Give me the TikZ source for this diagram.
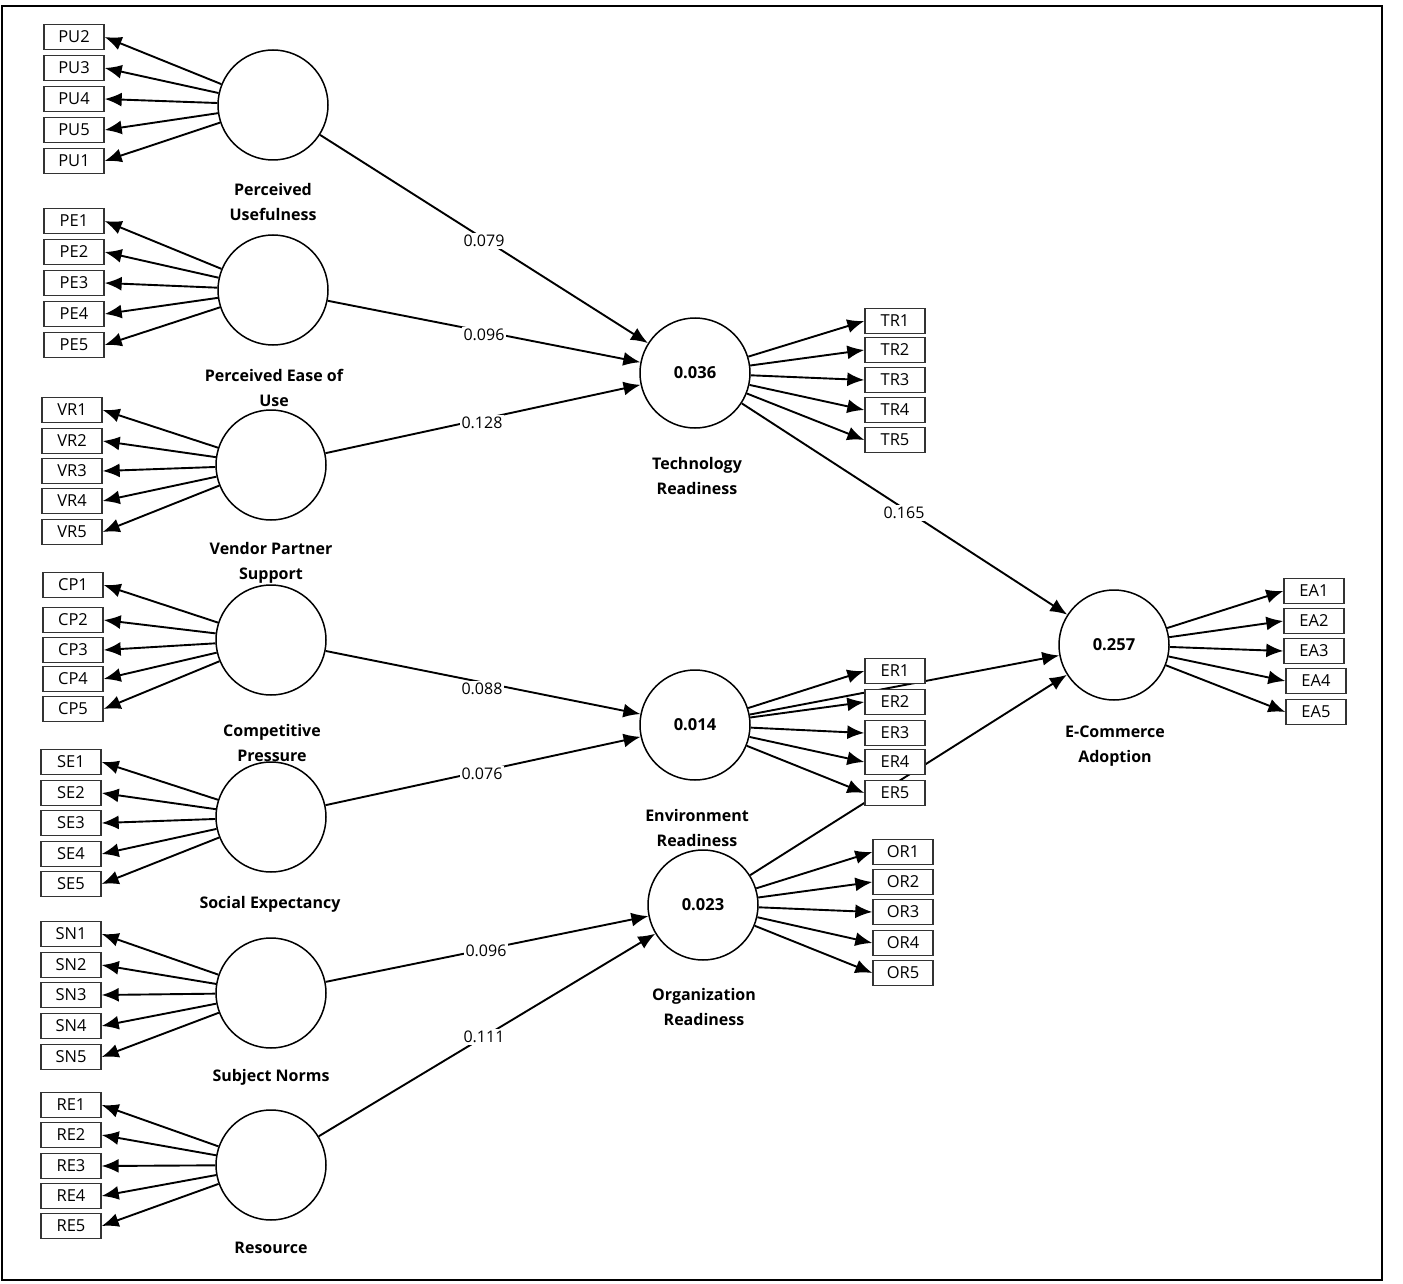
\documentclass[tikz,border=0pt]{standalone}
\usepackage{fontspec}
\setmainfont{Open Sans}
\usetikzlibrary{arrows.meta,backgrounds}
\begin{document}
\begin{tikzpicture}[x=1pt,y=-1pt,
 lv/.style={circle,draw,line width=1.5pt,minimum size=110pt,inner sep=0pt,font=\bfseries\fontsize{16.5}{20}\selectfont},
 ind/.style={draw=black!80,line width=1.4pt,fill=white,minimum width=60pt,minimum height=25pt,inner sep=0pt,font=\fontsize{16.5}{19}\selectfont},
 lab/.style={font=\bfseries\fontsize{16}{24.5}\selectfont,align=center},
 arr/.style={line width=1.9pt,-{Latex[length=17pt,width=14pt]}},
 coef/.style={fill=white,inner sep=2pt,font=\fontsize{16}{18}\selectfont}]
\useasboundingbox (0,0) rectangle (1403,1284);
\draw[line width=2.5pt] (2,6) rectangle (1382,1280);

% latent variables
\node[lv] (pu) at (273,105) {};
\node[lv] (pe) at (273,290) {};
\node[lv] (vr) at (271,465) {};
\node[lv] (cp) at (271,640) {};
\node[lv] (se) at (271,817) {};
\node[lv] (sn) at (271,993) {};
\node[lv] (re) at (271,1165) {};
\node[lv] (tr) at (695,373) {0.036};
\node[lv] (er) at (695,725) {0.014};
\node[lv] (or) at (703,905) {0.023};
\node[lv] (ea) at (1114,645) {0.257};

% construct labels
\node[lab] (lpu) at (273,202) {Perceived\\Usefulness};
\node[lab] (lpe) at (274,388) {Perceived Ease of\\Use};
\node[lab] (lvr) at (271,563) {Vendor Partner\\Support};
\node[lab] (lcp) at (272,743) {Competitive\\Pressure};
\node[lab] (lse) at (270,904) {Social Expectancy};
\node[lab] (lsn) at (271,1077) {Subject Norms};
\node[lab] (lre) at (271,1248) {Resource};
\node[lab] (ltr) at (697,476) {Technology\\Readiness};
\node[lab] (ler) at (697,828) {Environment\\Readiness};
\node[lab] (lor) at (704,1007) {Organization\\Readiness};
\node[lab] (lea) at (1115,746) {E-Commerce\\Adoption};

% structural paths hidden behind ER boxes
\draw[arr] (er) -- (ea);
\draw[arr] (or) -- (ea);

% indicators
\foreach \n/\t/\y in {pu2/PU2/37,pu3/PU3/68,pu4/PU4/99,pu5/PU5/130,pu1/PU1/161}
  {\node[ind] (\n) at (74,\y) {\t}; \draw[arr] (pu) -- (\n.east);}
\foreach \n/\t/\y in {pe1/PE1/221,pe2/PE2/252,pe3/PE3/283,pe4/PE4/314,pe5/PE5/345}
  {\node[ind] (\n) at (74,\y) {\t}; \draw[arr] (pe) -- (\n.east);}
\foreach \n/\t/\y in {vr1/VR1/410,vr2/VR2/441,vr3/VR3/471,vr4/VR4/501,vr5/VR5/532}
  {\node[ind] (\n) at (72,\y) {\t}; \draw[arr] (vr) -- (\n.east);}
\foreach \n/\t/\y in {cp1/CP1/585,cp2/CP2/620,cp3/CP3/650,cp4/CP4/679,cp5/CP5/709}
  {\node[ind] (\n) at (73,\y) {\t}; \draw[arr] (cp) -- (\n.east);}
\foreach \n/\t/\y in {se1/SE1/762,se2/SE2/793,se3/SE3/823,se4/SE4/854,se5/SE5/884}
  {\node[ind] (\n) at (71,\y) {\t}; \draw[arr] (se) -- (\n.east);}
\foreach \n/\t/\y in {sn1/SN1/934,sn2/SN2/965,sn3/SN3/995,sn4/SN4/1026,sn5/SN5/1057}
  {\node[ind] (\n) at (71,\y) {\t}; \draw[arr] (sn) -- (\n.east);}
\foreach \n/\t/\y in {re1/RE1/1105,re2/RE2/1135,re3/RE3/1166,re4/RE4/1196,re5/RE5/1226}
  {\node[ind] (\n) at (71,\y) {\t}; \draw[arr] (re) -- (\n.east);}
\foreach \n/\t/\y in {tr1/TR1/321,tr2/TR2/350,tr3/TR3/380,tr4/TR4/410,tr5/TR5/440}
  {\node[ind] (\n) at (895,\y) {\t}; \draw[arr] (tr) -- (\n.west);}
\foreach \n/\t/\y in {er1/ER1/671,er2/ER2/702,er3/ER3/733,er4/ER4/762,er5/ER5/793}
  {\node[ind] (\n) at (895,\y) {\t}; \draw[arr] (er) -- (\n.west);}
\foreach \n/\t/\y in {or1/OR1/852,or2/OR2/882,or3/OR3/912,or4/OR4/943,or5/OR5/973}
  {\node[ind] (\n) at (903,\y) {\t}; \draw[arr] (or) -- (\n.west);}
\foreach \n/\t/\y/\x in {ea1/EA1/591/1314,ea2/EA2/621/1314,ea3/EA3/651/1314,ea4/EA4/681/1316,ea5/EA5/712/1316}
  {\node[ind] (\n) at (\x,\y) {\t}; \draw[arr] (ea) -- (\n.west);}

% structural paths
\draw[arr] (pu) -- (tr);
\draw[arr] (pe) -- (tr);
\draw[arr] (vr) -- (tr);
\draw[arr] (tr) -- (ea);
\draw[arr] (cp) -- (er);
\draw[arr] (se) -- (er);
\draw[arr] (sn) -- (or);
\draw[arr] (re) -- (or);

% path coefficients
\node[coef] (c1) at (484,241) {0.079};
\node[coef] (c2) at (484,335) {0.096};
\node[coef] (c3) at (482,423) {0.128};
\node[coef] (c4) at (904,513) {0.165};
\node[coef] (c5) at (482,689) {0.088};
\node[coef] (c6) at (482,774) {0.076};
\node[coef] (c7) at (486,951) {0.096};
\node[coef] (c8) at (484,1037) {0.111};
\end{tikzpicture}
\end{document}
